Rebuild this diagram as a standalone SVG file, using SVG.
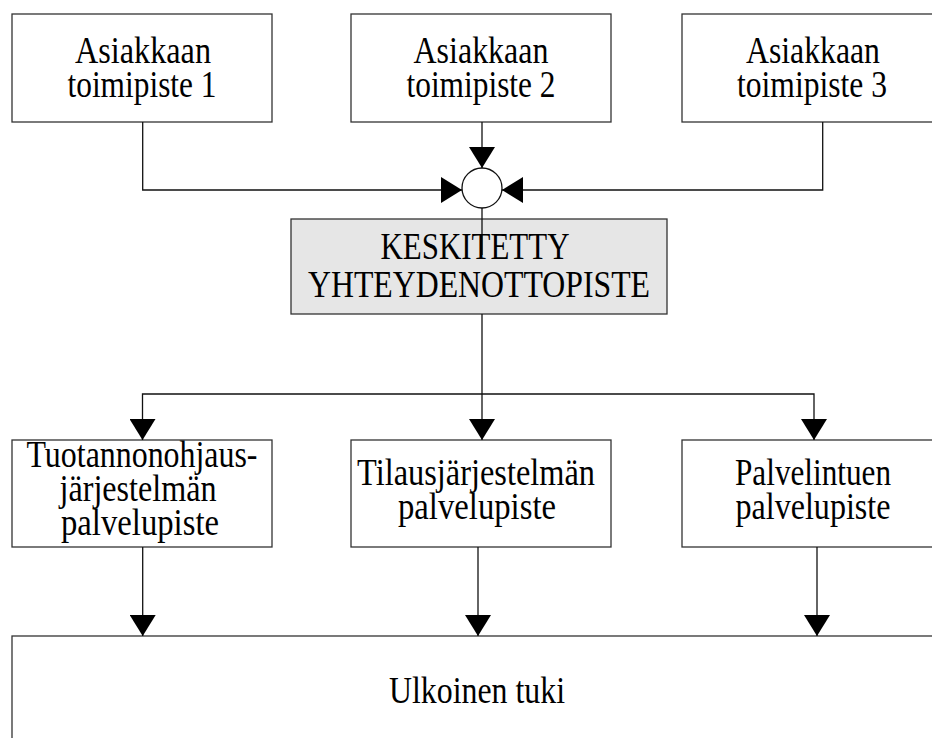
<svg xmlns="http://www.w3.org/2000/svg" width="932" height="738" viewBox="0 0 932 738">
  <style>
    .box { fill: #ffffff; stroke: #333333; stroke-width: 1.3; }
    .hub { fill: #e6e6e6; stroke: #333333; stroke-width: 1.3; }
    .lbl { font-family: "Liberation Serif", "Times New Roman", serif; font-size: 37px; fill: #000000; text-anchor: middle; }
    .wire { fill: none; stroke: #111111; stroke-width: 1.3; }
    .arr { marker-end: url(#head); }
  </style>
  <defs>
    <marker id="head" markerUnits="userSpaceOnUse" markerWidth="21" markerHeight="26" refX="21" refY="13" orient="auto">
      <path d="M0,0 L21,13 L0,26 Z" fill="#000000"/>
    </marker>
  </defs>

  <rect width="932" height="738" fill="#ffffff"/>

  <!-- customer offices -->
  <g id="office1">
    <rect class="box" x="12" y="14" width="260" height="108"/>
    <text class="lbl" x="143" y="63" textLength="136" lengthAdjust="spacingAndGlyphs">Asiakkaan</text>
    <text class="lbl" x="142" y="97" textLength="149" lengthAdjust="spacingAndGlyphs">toimipiste 1</text>
  </g>
  <g id="office2">
    <rect class="box" x="351" y="14" width="260" height="108"/>
    <text class="lbl" x="481" y="63" textLength="135" lengthAdjust="spacingAndGlyphs">Asiakkaan</text>
    <text class="lbl" x="481" y="97" textLength="149" lengthAdjust="spacingAndGlyphs">toimipiste 2</text>
  </g>
  <g id="office3">
    <rect class="box" x="682" y="14" width="262" height="108"/>
    <text class="lbl" x="813" y="63" textLength="134" lengthAdjust="spacingAndGlyphs">Asiakkaan</text>
    <text class="lbl" x="812" y="97" textLength="150" lengthAdjust="spacingAndGlyphs">toimipiste 3</text>
  </g>

  <!-- junction -->
  <g id="junction">
    <circle cx="482" cy="188" r="20" fill="#ffffff" stroke="#111111" stroke-width="1.3"/>
  </g>

  <!-- central contact point -->
  <g id="central">
    <rect class="hub" x="291" y="219" width="376" height="95"/>
  </g>

  <!-- service points -->
  <g id="service1">
    <rect class="box" x="12" y="440" width="260" height="107"/>
    <text class="lbl" x="142" y="467" textLength="231" lengthAdjust="spacingAndGlyphs">Tuotannonohjaus-</text>
    <text class="lbl" x="138" y="501" textLength="157" lengthAdjust="spacingAndGlyphs">järjestelmän</text>
    <text class="lbl" x="140" y="535" textLength="158" lengthAdjust="spacingAndGlyphs">palvelupiste</text>
  </g>
  <g id="service2">
    <rect class="box" x="351" y="440" width="260" height="107"/>
    <text class="lbl" x="476" y="485" textLength="238" lengthAdjust="spacingAndGlyphs">Tilausjärjestelmän</text>
    <text class="lbl" x="477" y="519" textLength="158" lengthAdjust="spacingAndGlyphs">palvelupiste</text>
  </g>
  <g id="service3">
    <rect class="box" x="682" y="440" width="262" height="107"/>
    <text class="lbl" x="813" y="485" textLength="156" lengthAdjust="spacingAndGlyphs">Palvelintuen</text>
    <text class="lbl" x="813" y="519" textLength="155" lengthAdjust="spacingAndGlyphs">palvelupiste</text>
  </g>

  <!-- external support -->
  <g id="support">
    <rect class="box" x="12" y="636" width="932" height="120"/>
    <text class="lbl" x="477" y="703" textLength="176" lengthAdjust="spacingAndGlyphs">Ulkoinen tuki</text>
  </g>

  <!-- connectors -->
  <g id="connectors">
    <path class="wire arr" d="M142.7,122 V190 H462"/>
    <path class="wire arr" d="M482,122 V168"/>
    <path class="wire arr" d="M822.7,122 V190 H502"/>
    <path class="wire" d="M482,208 V255"/>
    <path class="wire arr" d="M482,314 V440"/>
    <path class="wire arr" d="M482,394 H142.5 V440"/>
    <path class="wire arr" d="M482,394 H814 V440"/>
    <path class="wire arr" d="M142.7,547 V636"/>
    <path class="wire arr" d="M478,547 V636"/>
    <path class="wire arr" d="M817,547 V636"/>
  </g>

  <!-- hub label sits above the incoming line -->
  <g id="central-label">
    <text class="lbl" x="475" y="259" textLength="189" lengthAdjust="spacingAndGlyphs">KESKITETTY</text>
    <text class="lbl" x="479" y="297" textLength="342" lengthAdjust="spacingAndGlyphs">YHTEYDENOTTOPISTE</text>
  </g>
</svg>
